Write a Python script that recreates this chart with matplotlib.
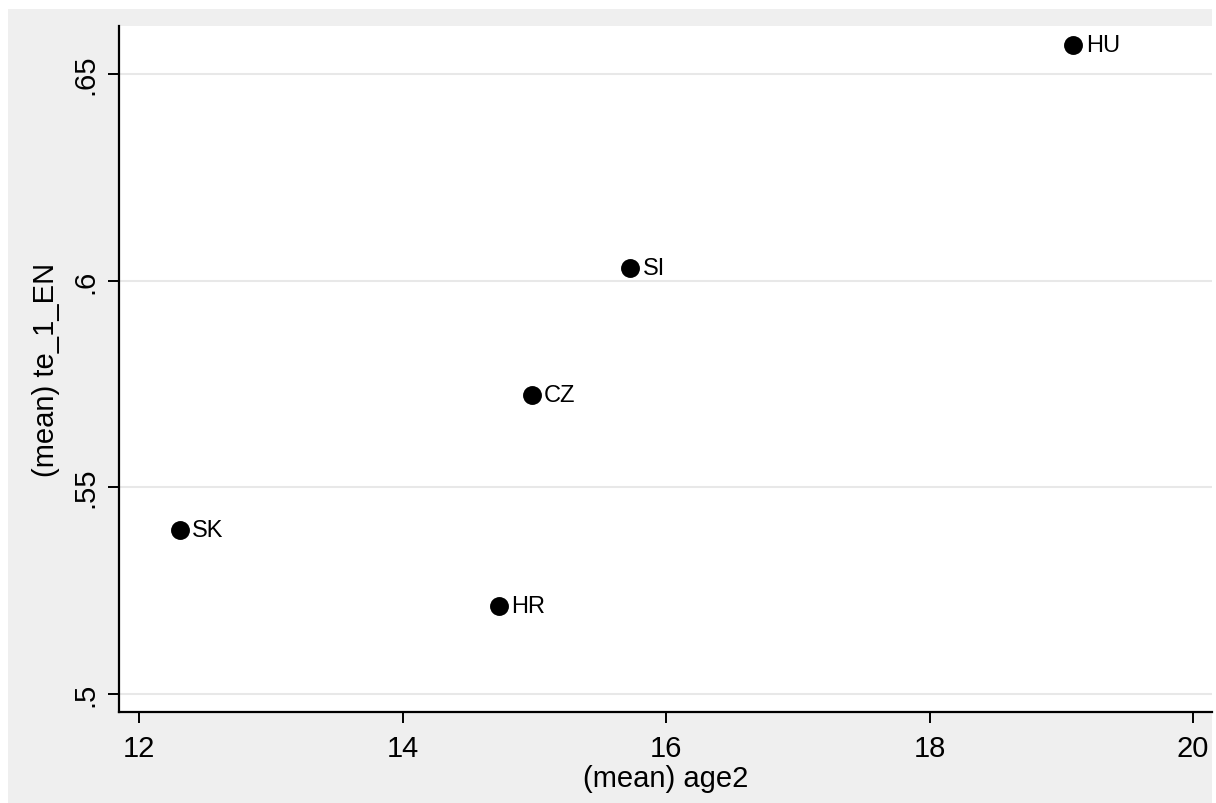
import matplotlib
matplotlib.use('Agg')
import matplotlib.pyplot as plt
import matplotlib.patches as mpatches
from matplotlib.ticker import FixedLocator, FixedFormatter

# Data
countries = ['HU', 'SI', 'CZ', 'SK', 'HR']
age2 = [19.09, 15.73, 14.98, 12.31, 14.73]
te_1_en = [0.657, 0.603, 0.5723, 0.5396, 0.5212]

x_ticks = [12, 14, 16, 18, 20]
y_ticks = [0.5, 0.55, 0.6, 0.65]
y_tick_labels = ['.5', '.55', '.6', '.65']

BG = '#efefef'
GRID = '#e8e8e8'
INK = '#000000'

plt.rcParams['font.family'] = ['Liberation Sans', 'DejaVu Sans']

fig = plt.figure(figsize=(12.16, 8.04), dpi=100, facecolor='white')
# grey outer region (Stata graph region)
fig.add_artist(mpatches.Rectangle((8 / 1216, 0), 1204 / 1216, 1 - 10 / 804,
                                  transform=fig.transFigure,
                                  facecolor=BG, edgecolor='none', zorder=-5))

ax = fig.add_axes([119 / 1216, 1 - 713 / 804, 1093 / 1216, 686 / 804])
ax.set_zorder(2)
ax.set_facecolor('white')

ax.scatter(age2, te_1_en, s=185, color=INK, zorder=3, linewidths=0)
for name, x, y in zip(countries, age2, te_1_en):
    ax.annotate(name, (x, y), xytext=(9, 0), textcoords='offset points',
                ha='left', va='center', fontsize=17, color=INK)

ax.set_xlim(11.848, 20.144)
ax.set_ylim(0.4956, 0.6616)

ax.xaxis.set_major_locator(FixedLocator(x_ticks))
ax.yaxis.set_major_locator(FixedLocator(y_ticks))
ax.yaxis.set_major_formatter(FixedFormatter(y_tick_labels))

ax.grid(axis='y', color=GRID, linewidth=1.5, zorder=0)
ax.set_axisbelow(True)

for side in ['top', 'right']:
    ax.spines[side].set_visible(False)
for side in ['left', 'bottom']:
    ax.spines[side].set_linewidth(1.6)
    ax.spines[side].set_color(INK)

ax.tick_params(axis='both', direction='out', length=8, width=1.4,
               color=INK, labelsize=21, labelcolor=INK)
ax.tick_params(axis='x', pad=8)
ax.tick_params(axis='y', pad=6)
for lbl in ax.get_yticklabels():
    lbl.set_rotation(90)
    lbl.set_va('center')

ax.set_xlabel('(mean) age2', fontsize=21, color=INK, labelpad=1)
ax.set_ylabel('(mean) te_1_EN', fontsize=21, color=INK, labelpad=8)

fig.savefig('out.png', dpi=100, facecolor='white')
